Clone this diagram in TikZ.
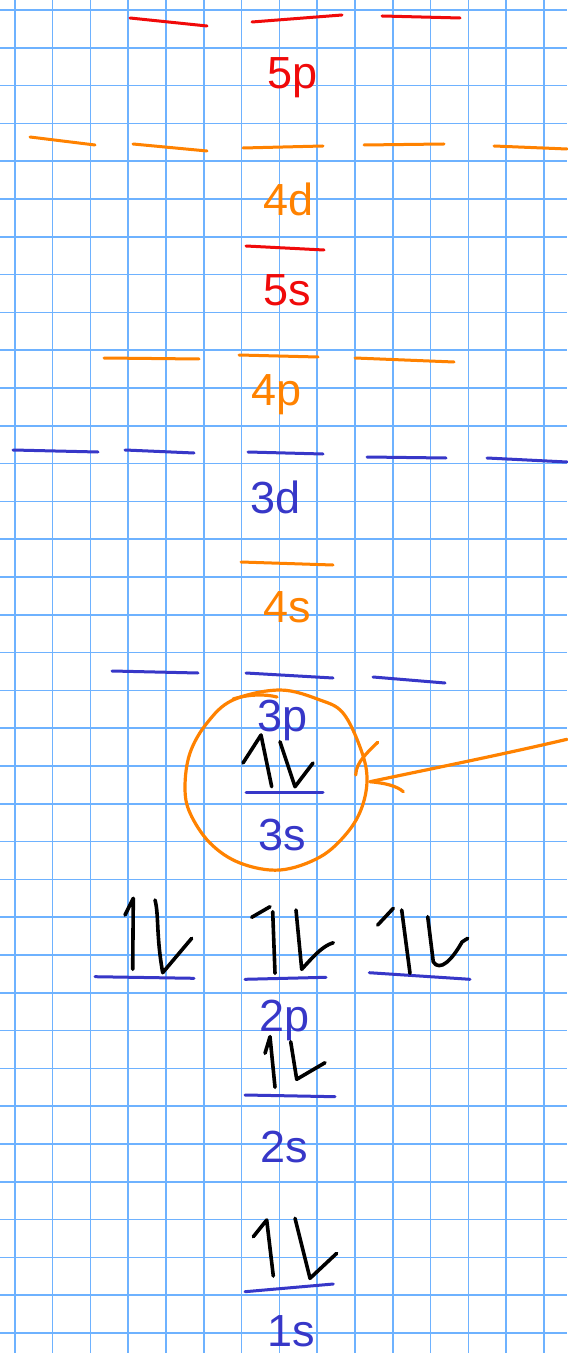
\documentclass[tikz,border=0pt]{standalone}
\usepackage{fontspec}
\setmainfont{Liberation Sans}
\definecolor{gridblue}{RGB}{110,178,255}
\definecolor{lvlblue}{RGB}{55,55,200}
\definecolor{lvlred}{RGB}{240,10,10}
\definecolor{lvlorange}{RGB}{255,130,0}
\tikzset{
  lvl/.style={line width=1.5pt, line cap=round},
  lab/.style={font=\fontsize{22.5}{22.5}\selectfont, inner sep=0pt, anchor=base},
  spin/.style={line width=1.8pt, line cap=round, line join=round, black},
  ring/.style={line width=1.6pt, lvlorange, line cap=round, line join=round},
}
\begin{document}
\begin{tikzpicture}[x=0.5pt,y=-0.5pt]
\useasboundingbox (0,0) rectangle (567,1353);
\fill[white] (0,0) rectangle (567,1353);
% grid
\foreach \k in {0,...,14} \draw[gridblue, line width=0.8pt] ({14.7+37.8*\k},0) -- ({14.7+37.8*\k},1353);
\foreach \k in {0,...,35} \draw[gridblue, line width=0.8pt] (0,{10+37.8*\k}) -- (567,{10+37.8*\k});
% 5p
\draw[lvl, lvlred] (130,18) -- (207,26);
\draw[lvl, lvlred] (252,22) -- (342,15);
\draw[lvl, lvlred] (382,16) -- (460,18);
\node[lab, lvlred] (l5p) at (293,88.3) {5p};
% 4d
\draw[lvl, lvlorange] (30,137) -- (95,145);
\draw[lvl, lvlorange] (133,144) -- (207,151);
\draw[lvl, lvlorange] (243,148) -- (323,146);
\draw[lvl, lvlorange] (364,145) -- (444,144);
\draw[lvl, lvlorange] (494,146) -- (567,149);
\node[lab, lvlorange] (l4d) at (288.3,216) {4d};
% 5s
\draw[lvl, lvlred] (246,246) -- (324,250);
\node[lab, lvlred] (l5s) at (287.5,306) {5s};
% 4p
\draw[lvl, lvlorange] (104,358) -- (199,359);
\draw[lvl, lvlorange] (239,355) -- (318,357);
\draw[lvl, lvlorange] (355,358) -- (454,362);
\node[lab, lvlorange] (l4p) at (277,405) {4p};
% 3d
\draw[lvl, lvlblue] (13,450) -- (98,452);
\draw[lvl, lvlblue] (125,450) -- (194,453);
\draw[lvl, lvlblue] (248,452) -- (323,454);
\draw[lvl, lvlblue] (367,457) -- (446,458);
\draw[lvl, lvlblue] (487,458) -- (567,462);
\node[lab, lvlblue] (l3d) at (276,513.3) {3d};
% 4s
\draw[lvl, lvlorange] (241,562) -- (333,565);
\node[lab, lvlorange] (l4s) at (287,622.3) {4s};
% 3p
\draw[lvl, lvlblue] (112,671) -- (198,673);
\draw[lvl, lvlblue] (246,673) -- (333,678);
\draw[lvl, lvlblue] (373,677) -- (445,683);
\node[lab, lvlblue] (l3p) at (283,731.7) {3p};
% 3s
\draw[lvl, lvlblue] (246,792) -- (323,792);
\node[lab, lvlblue] (l3s) at (282,850) {3s};
\draw[spin] (243,763) -- (261,735) -- (271.7,786.7);
\draw[spin] (280,741.7) -- (295,786.7) -- (313,763);
% 2p
\draw[lvl, lvlblue] (95,976.7) -- (194,978.3);
\draw[lvl, lvlblue] (245,979.3) -- (326,977.3);
\draw[lvl, lvlblue] (369.3,972.7) -- (470,979.3);
\node[lab, lvlblue] (l2p) at (285,1031.7) {2p};
\draw[spin] (125,915) -- (133.3,898.3) -- (132.7,969.3);
\draw[spin] (155,900) .. controls (159,915) and (156,935) .. (162.7,972.7) -- (191.7,938.3);
\draw[spin] (251.7,917.3) -- (270,906.7);
\draw[spin] (272.7,911.7) -- (275,973.3);
\draw[spin] (296,910) -- (301.7,969.3) .. controls (312,958) and (322,946) .. (333.3,942.7);
\draw[spin] (377.7,925) -- (393.3,908.3);
\draw[spin] (401.7,910) -- (410,973.3);
\draw[spin] (427.7,916.7) -- (433.3,962) .. controls (440,972) and (452,960) .. (462,942) -- (467.7,938.3);
% 2s
\draw[lvl, lvlblue] (245,1095) -- (335,1096.7);
\node[lab, lvlblue] (l2s) at (284,1162) {2s};
\draw[spin] (265,1053.3) -- (270,1036.7) -- (275,1087.3);
\draw[spin] (290.7,1041.7) -- (296.7,1079.3) -- (325,1062.7);
% 1s
\draw[lvl, lvlblue] (245,1291.7) -- (333.3,1284);
\node[lab, lvlblue] (l1s) at (291.7,1346.5) {1s};
\draw[spin] (253.3,1236.7) -- (266.7,1220) -- (273.3,1276);
\draw[spin] (295,1218.3) -- (310,1278.3) -- (336.7,1253.3);
% ring around 3s
\draw[ring] plot[smooth cycle, tension=0.6] coordinates {
 (233,700) (280,690) (320,700) (343,713) (360,747) (367,777) (362,807) (347,833)
 (320,857) (280,870) (240,863) (210,843) (190,813) (185,787) (190,753) (207,723)};
\draw[ring] (233,699) .. controls (250,694) and (265,694) .. (277,697);
% pointer arrow
\coordinate (ptail) at (567,739.3);
\coordinate (phead) at (370,781.7);
\draw[ring] (ptail) .. controls (500,755) and (430,769) .. (phead);
\draw[ring] (377.7,742.3) .. controls (368,752) and (356,762) .. (355.7,775);
\draw[ring] (phead) .. controls (385,783) and (397,786) .. (403.3,791.7);
\end{tikzpicture}
\end{document}
